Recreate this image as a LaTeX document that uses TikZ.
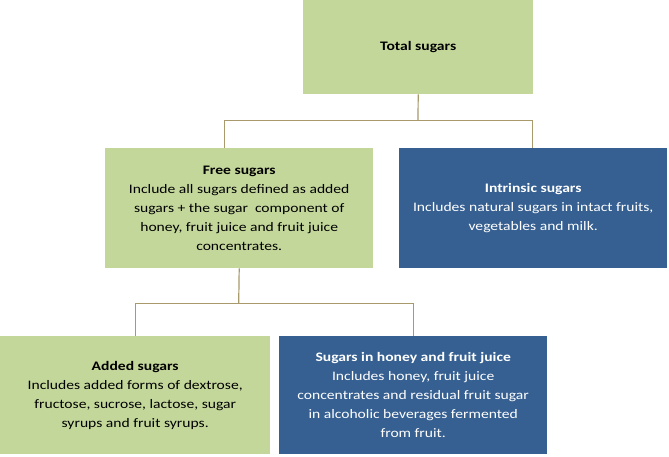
\documentclass[tikz,border=0pt]{standalone}
\usepackage{fontspec}
\setmainfont{Carlito}[FakeStretch=1.2]
\definecolor{boxgreen}{HTML}{C4D79B}
\definecolor{boxblue}{HTML}{366092}
\definecolor{linecol}{HTML}{A89A6A}
\begin{document}
\begin{tikzpicture}[x=1pt,y=1pt,
  box/.style={rectangle, inner sep=0pt, anchor=north west, align=center,
    font=\fontsize{13}{19}\selectfont},
  greenbox/.style={box, fill=boxgreen, text=black},
  bluebox/.style={box, fill=boxblue, text=white},
  conn/.style={draw=linecol, line width=1.2pt}]
\useasboundingbox (0,0) rectangle (669,-456);
\node[greenbox, minimum width=230, minimum height=94] (total) at (303,0) {\textbf{Total sugars}};
\node[greenbox, minimum width=268, minimum height=120] (free) at (105,-148)
  {\textbf{Free sugars}\\Include all sugars defined as added\\sugars + the sugar\ \ component of\\honey, fruit juice and fruit juice\\concentrates.};
\node[bluebox, minimum width=268, minimum height=120] (intr) at (399,-148)
  {\textbf{Intrinsic sugars}\\Includes natural sugars in intact fruits,\\vegetables and milk.};
\node[greenbox, minimum width=270, minimum height=118] (added) at (0,-336)
  {\textbf{Added sugars}\\Includes added forms of dextrose,\\fructose, sucrose, lactose, sugar\\syrups and fruit syrups.};
\node[bluebox, minimum width=268, minimum height=118] (honey) at (279,-336)
  {\textbf{Sugars in honey and fruit juice}\\Includes honey, fruit juice\\concentrates and residual fruit sugar\\in alcoholic beverages fermented\\from fruit.};
\coordinate (j1) at (418,-120.5);
\coordinate (j2) at (238.7,-303.5);
\draw[conn] (total.south) -- (j1);
\draw[conn] (j1) -| ([xshift=-14.5]free.north);
\draw[conn] (j1) -| ([xshift=-0.5]intr.north);
\draw[conn] (free.south) -- (j2);
\draw[conn] (j2) -| (added.north);
\draw[conn] (j2) -| (honey.north);
\end{tikzpicture}
\end{document}
